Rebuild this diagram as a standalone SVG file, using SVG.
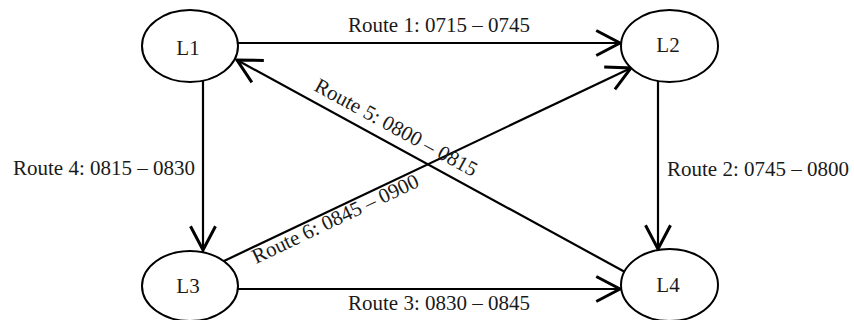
<svg xmlns="http://www.w3.org/2000/svg" width="854" height="320" viewBox="0 0 854 320">
<style>
.n{fill:#fff;stroke:#000;stroke-width:2}
.t{font-family:"Liberation Serif","Times New Roman",serif;font-size:21px;fill:#1a1a1a}
.c{text-anchor:middle}
.e{stroke:#000;stroke-width:2.2;fill:none}
</style>
<defs>
<marker id="a" markerUnits="userSpaceOnUse" markerWidth="30" markerHeight="30" refX="0" refY="0" viewBox="-22 -12 24 24" orient="auto" overflow="visible">
<path d="M-19,-10 L0,0 L-19,10" fill="none" stroke="#000" stroke-width="2.4"/>
</marker>
</defs>
<rect width="854" height="320" fill="#fff"/>
<g id="connectors">
<line class="e" x1="238" y1="43" x2="620" y2="43" marker-end="url(#a)"/>
<line class="e" x1="658" y1="81" x2="658" y2="249" marker-end="url(#a)"/>
<line class="e" x1="237" y1="289" x2="620" y2="289" marker-end="url(#a)"/>
<line class="e" x1="203" y1="79" x2="203" y2="250" marker-end="url(#a)"/>
<line class="e" x1="625" y1="272" x2="237" y2="60" marker-end="url(#a)"/>
<line class="e" x1="224" y1="261" x2="631" y2="68" marker-end="url(#a)"/>
<text class="t" x="348" y="32">Route 1: 0715 – 0745</text>
<text class="t" x="667" y="176">Route 2: 0745 – 0800</text>
<text class="t" x="348" y="310">Route 3: 0830 – 0845</text>
<text class="t" x="195" y="175" text-anchor="end">Route 4: 0815 – 0830</text>
<text class="t" transform="translate(313,90) rotate(28.6)">Route 5: 0800 – 0815</text>
<text class="t" transform="translate(256,264) rotate(-25.4)">Route 6: 0845 – 0900</text>
</g>
<g id="L1"><ellipse class="n" cx="190" cy="46" rx="48" ry="36"/><text class="t c" x="188" y="55">L1</text></g>
<g id="L2"><ellipse class="n" cx="669.5" cy="46" rx="48.5" ry="36"/><text class="t c" x="668" y="52">L2</text></g>
<g id="L3"><ellipse class="n" cx="190" cy="286" rx="48" ry="35"/><text class="t c" x="188" y="293">L3</text></g>
<g id="L4"><ellipse class="n" cx="669.5" cy="285" rx="48.5" ry="36"/><text class="t c" x="668" y="292">L4</text></g>
</svg>
